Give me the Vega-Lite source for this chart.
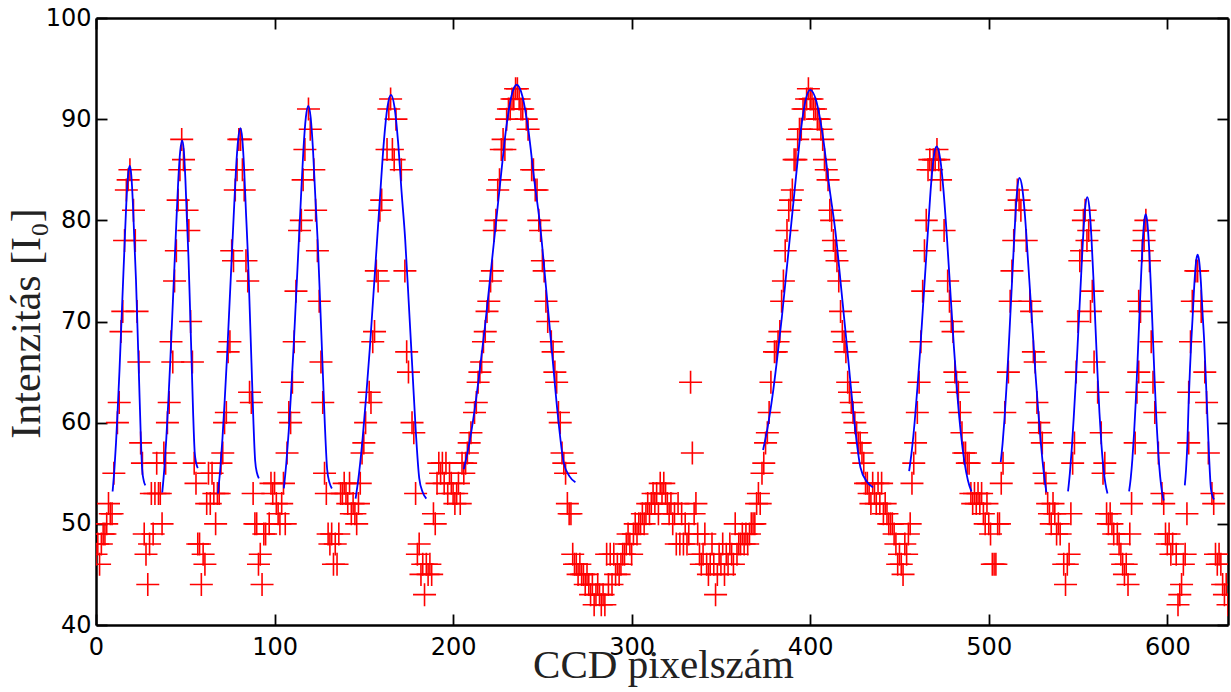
{
"$schema": "https://vega.github.io/schema/vega-lite/v6.json",
"width": 1132, "height": 607,
"autosize": {"type": "none"},
"padding": {"left": 96, "top": 18, "right": 3, "bottom": 67},
"background": "white",
"config": {"view": {"stroke": null}, "axis": {"domainColor": "black", "domainWidth": 2.5, "tickColor": "black", "tickWidth": 1.8, "grid": false, "labelFont": "DejaVu Sans", "labelFontSize": 24, "labelColor": "black", "labelFlush": false, "titleColor": "#222222", "titleFontWeight": "normal"}},
"datasets": {
"pts": [
{"x":0,"y":47},{"x":1,"y":48},{"x":2,"y":46},{"x":3,"y":48},{"x":4,"y":49},{"x":5,"y":49},{"x":6,"y":50},{"x":7,"y":52},{"x":8,"y":51},{"x":9,"y":51},
{"x":10,"y":55},{"x":12,"y":60},{"x":13,"y":62},{"x":14,"y":69},{"x":15,"y":71},{"x":16,"y":78},{"x":17,"y":83},{"x":18,"y":84},{"x":19,"y":85},{"x":21,"y":81},{"x":22,"y":78},{"x":23,"y":71},{"x":24,"y":66},{"x":25,"y":58},{"x":26,"y":56},
{"x":27,"y":49},{"x":28,"y":47},{"x":29,"y":44},{"x":30,"y":48},{"x":31,"y":53},{"x":32,"y":49},{"x":33,"y":53},{"x":34,"y":56},{"x":35,"y":53},{"x":36,"y":53},{"x":37,"y":50},{"x":38,"y":57},{"x":39,"y":56},
{"x":40,"y":60},{"x":41,"y":62},{"x":42,"y":68},{"x":43,"y":66},{"x":44,"y":74},{"x":45,"y":77},{"x":46,"y":82},{"x":47,"y":85},{"x":48,"y":88},{"x":49,"y":86},{"x":51,"y":81},{"x":52,"y":79},{"x":53,"y":70},{"x":54,"y":66},{"x":55,"y":56},{"x":56,"y":54},
{"x":57,"y":48},{"x":58,"y":48},{"x":59,"y":44},{"x":60,"y":47},{"x":61,"y":46},{"x":62,"y":52},{"x":63,"y":55},{"x":64,"y":52},{"x":65,"y":55},{"x":66,"y":53},{"x":67,"y":50},{"x":68,"y":53},{"x":69,"y":53},{"x":70,"y":56},
{"x":71,"y":57},{"x":72,"y":60},{"x":73,"y":61},{"x":74,"y":67},{"x":75,"y":68},{"x":76,"y":77},{"x":77,"y":76},{"x":78,"y":83},{"x":79,"y":85},{"x":80,"y":88},{"x":81,"y":88},{"x":82,"y":85},{"x":83,"y":83},{"x":84,"y":76},{"x":85,"y":74},{"x":86,"y":63},{"x":87,"y":62},{"x":88,"y":53},
{"x":89,"y":50},{"x":90,"y":50},{"x":91,"y":46},{"x":92,"y":47},{"x":93,"y":44},{"x":94,"y":49},{"x":95,"y":49},{"x":97,"y":50},{"x":98,"y":54},{"x":99,"y":53},{"x":100,"y":54},{"x":101,"y":52},{"x":102,"y":51},{"x":103,"y":50},{"x":104,"y":52},{"x":105,"y":54},{"x":106,"y":50},
{"x":107,"y":57},{"x":108,"y":61},{"x":109,"y":60},{"x":110,"y":64},{"x":111,"y":68},{"x":112,"y":73},{"x":114,"y":79},{"x":115,"y":80},{"x":116,"y":84},{"x":117,"y":87},{"x":119,"y":91},{"x":120,"y":89},{"x":122,"y":85},{"x":123,"y":81},{"x":124,"y":77},{"x":125,"y":72},{"x":126,"y":66},{"x":127,"y":62},{"x":128,"y":55},{"x":129,"y":53},
{"x":130,"y":49},{"x":131,"y":48},{"x":132,"y":49},{"x":133,"y":46},{"x":134,"y":48},{"x":135,"y":46},{"x":136,"y":49},{"x":137,"y":53},{"x":138,"y":53},{"x":139,"y":54},{"x":140,"y":53},{"x":141,"y":52},{"x":142,"y":54},{"x":143,"y":51},{"x":144,"y":52},{"x":145,"y":51},{"x":146,"y":50},{"x":147,"y":52},{"x":148,"y":54},
{"x":149,"y":57},{"x":150,"y":58},{"x":151,"y":60},{"x":153,"y":63},{"x":154,"y":62},{"x":155,"y":68},{"x":156,"y":69},{"x":157,"y":75},{"x":158,"y":74},{"x":159,"y":81},{"x":160,"y":82},{"x":163,"y":87},{"x":164,"y":91},{"x":165,"y":92},{"x":166,"y":87},{"x":167,"y":86},{"x":168,"y":90},{"x":171,"y":85},{"x":173,"y":75},{"x":174,"y":67},{"x":175,"y":65},{"x":177,"y":60},{"x":178,"y":59},{"x":179,"y":53},
{"x":180,"y":47},{"x":181,"y":48},{"x":182,"y":45},{"x":183,"y":46},{"x":184,"y":43},{"x":185,"y":46},{"x":186,"y":45},{"x":187,"y":46},{"x":188,"y":45},{"x":189,"y":51},{"x":190,"y":50},{"x":191,"y":54},{"x":192,"y":56},{"x":193,"y":55},{"x":194,"y":56},{"x":195,"y":54},{"x":196,"y":56},{"x":197,"y":53},{"x":198,"y":55},{"x":199,"y":54},{"x":200,"y":53},{"x":201,"y":52},{"x":202,"y":53},{"x":203,"y":54},{"x":204,"y":52},{"x":205,"y":56},
{"x":206,"y":55},{"x":207,"y":56},{"x":208,"y":57},{"x":209,"y":58},{"x":210,"y":59},{"x":212,"y":61},{"x":213,"y":62},{"x":214,"y":64},{"x":215,"y":65},{"x":216,"y":66},{"x":217,"y":68},{"x":218,"y":69},{"x":219,"y":71},{"x":220,"y":72},{"x":221,"y":74},{"x":222,"y":75},{"x":223,"y":79},{"x":224,"y":80},{"x":225,"y":83},{"x":226,"y":84},{"x":227,"y":87},{"x":228,"y":88},{"x":229,"y":87},{"x":230,"y":90},{"x":231,"y":91},{"x":232,"y":91},{"x":233,"y":92},{"x":234,"y":92},{"x":235,"y":93},{"x":236,"y":93},{"x":237,"y":92},{"x":238,"y":91},{"x":239,"y":91},{"x":241,"y":90},{"x":242,"y":89},{"x":244,"y":85},{"x":245,"y":85},{"x":246,"y":83},{"x":247,"y":83},{"x":248,"y":80},{"x":249,"y":79},{"x":250,"y":76},{"x":251,"y":75},{"x":252,"y":72},{"x":253,"y":70},{"x":255,"y":68},{"x":256,"y":67},{"x":257,"y":65},{"x":258,"y":64},{"x":259,"y":61},{"x":260,"y":60},{"x":261,"y":57},{"x":262,"y":56},
{"x":263,"y":55},{"x":264,"y":52},{"x":265,"y":51},{"x":266,"y":51},{"x":267,"y":47},{"x":268,"y":46},{"x":269,"y":46},{"x":270,"y":45},{"x":271,"y":46},{"x":272,"y":45},{"x":273,"y":45},{"x":274,"y":44},{"x":275,"y":45},{"x":276,"y":44},{"x":277,"y":43},{"x":278,"y":44},{"x":279,"y":42},{"x":280,"y":43},{"x":281,"y":44},{"x":282,"y":43},{"x":283,"y":42},{"x":284,"y":43},{"x":285,"y":42},{"x":286,"y":47},{"x":287,"y":44},{"x":288,"y":47},{"x":289,"y":44},{"x":290,"y":47},{"x":291,"y":45},{"x":292,"y":46},{"x":293,"y":45},{"x":294,"y":46},{"x":295,"y":47},{"x":296,"y":47},{"x":297,"y":48},{"x":298,"y":49},{"x":299,"y":48},{"x":300,"y":47},{"x":301,"y":49},{"x":302,"y":50},{"x":303,"y":49},{"x":304,"y":50},{"x":305,"y":50},{"x":306,"y":51},{"x":307,"y":50},{"x":308,"y":51},{"x":309,"y":52},{"x":310,"y":51},{"x":311,"y":52},{"x":312,"y":53},{"x":313,"y":52},{"x":314,"y":53},{"x":315,"y":51},{"x":316,"y":54},{"x":317,"y":53},{"x":318,"y":54},{"x":319,"y":53},{"x":320,"y":52},{"x":321,"y":51},{"x":322,"y":52},{"x":323,"y":50},{"x":324,"y":51},{"x":325,"y":48},{"x":326,"y":52},{"x":327,"y":48},{"x":328,"y":51},{"x":329,"y":48},{"x":330,"y":50},{"x":331,"y":48},{"x":332,"y":49},{"x":333,"y":64},{"x":334,"y":57},{"x":335,"y":51},{"x":336,"y":52},{"x":337,"y":49},{"x":338,"y":47},{"x":339,"y":46},{"x":340,"y":47},{"x":341,"y":49},{"x":342,"y":46},{"x":343,"y":45},{"x":344,"y":46},{"x":345,"y":48},{"x":346,"y":46},{"x":347,"y":43},{"x":348,"y":45},{"x":349,"y":47},{"x":350,"y":46},{"x":351,"y":48},{"x":352,"y":45},{"x":353,"y":47},{"x":354,"y":46},{"x":355,"y":48},{"x":356,"y":47},{"x":357,"y":46},{"x":358,"y":50},{"x":359,"y":47},{"x":360,"y":48},{"x":361,"y":48},{"x":362,"y":49},{"x":363,"y":48},{"x":364,"y":49},{"x":365,"y":48},{"x":366,"y":49},{"x":367,"y":50},{"x":368,"y":50},{"x":369,"y":50},{"x":370,"y":52},{"x":371,"y":53},{"x":372,"y":52},
{"x":373,"y":55},{"x":374,"y":56},{"x":375,"y":58},{"x":376,"y":59},{"x":377,"y":61},{"x":378,"y":64},{"x":380,"y":67},{"x":381,"y":67},{"x":382,"y":68},{"x":383,"y":69},{"x":384,"y":72},{"x":385,"y":74},{"x":386,"y":77},{"x":387,"y":79},{"x":388,"y":81},{"x":389,"y":82},{"x":390,"y":83},{"x":391,"y":86},{"x":392,"y":86},{"x":393,"y":88},{"x":394,"y":89},{"x":395,"y":89},{"x":396,"y":91},{"x":397,"y":91},{"x":398,"y":92},{"x":399,"y":93},{"x":400,"y":92},{"x":401,"y":92},{"x":402,"y":91},{"x":403,"y":91},{"x":404,"y":90},{"x":405,"y":90},{"x":406,"y":89},{"x":407,"y":88},{"x":408,"y":86},{"x":409,"y":85},{"x":410,"y":84},{"x":411,"y":81},{"x":412,"y":80},{"x":413,"y":78},{"x":414,"y":77},{"x":415,"y":76},{"x":416,"y":74},{"x":417,"y":71},{"x":418,"y":69},{"x":419,"y":68},{"x":420,"y":67},{"x":421,"y":64},{"x":422,"y":63},{"x":423,"y":62},{"x":424,"y":61},{"x":425,"y":60},{"x":426,"y":59},{"x":427,"y":58},{"x":428,"y":58},{"x":429,"y":57},{"x":430,"y":56},
{"x":431,"y":54},{"x":432,"y":54},{"x":433,"y":53},{"x":434,"y":52},{"x":435,"y":54},{"x":436,"y":53},{"x":437,"y":52},{"x":438,"y":54},{"x":439,"y":52},{"x":440,"y":54},{"x":441,"y":51},{"x":442,"y":52},{"x":443,"y":51},{"x":444,"y":50},{"x":445,"y":50},{"x":446,"y":50},{"x":447,"y":49},{"x":448,"y":48},{"x":449,"y":46},{"x":450,"y":47},{"x":451,"y":46},{"x":452,"y":45},{"x":453,"y":48},{"x":454,"y":47},{"x":455,"y":49},{"x":456,"y":50},{"x":457,"y":54},
{"x":458,"y":56},{"x":459,"y":58},{"x":460,"y":61},{"x":461,"y":64},{"x":462,"y":68},{"x":463,"y":73},{"x":464,"y":77},{"x":465,"y":80},{"x":466,"y":85},{"x":467,"y":86},{"x":468,"y":85},{"x":469,"y":86},{"x":470,"y":86},{"x":471,"y":87},{"x":472,"y":86},{"x":473,"y":84},{"x":475,"y":79},{"x":477,"y":74},{"x":478,"y":72},{"x":479,"y":70},{"x":480,"y":69},{"x":481,"y":65},{"x":482,"y":64},{"x":483,"y":63},{"x":484,"y":61},{"x":485,"y":59},{"x":486,"y":57},{"x":487,"y":57},{"x":488,"y":56},{"x":489,"y":56},{"x":490,"y":53},
{"x":491,"y":52},{"x":492,"y":53},{"x":493,"y":52},{"x":494,"y":53},{"x":495,"y":52},{"x":496,"y":53},{"x":497,"y":51},{"x":498,"y":50},{"x":499,"y":52},{"x":500,"y":50},{"x":501,"y":49},{"x":502,"y":46},{"x":503,"y":46},{"x":504,"y":46},{"x":505,"y":50},{"x":506,"y":50},
{"x":507,"y":54},{"x":508,"y":56},{"x":509,"y":61},{"x":511,"y":65},{"x":512,"y":72},{"x":513,"y":75},{"x":514,"y":78},{"x":515,"y":81},{"x":516,"y":83},{"x":517,"y":82},{"x":518,"y":81},{"x":521,"y":78},{"x":523,"y":72},{"x":524,"y":71},{"x":525,"y":67},{"x":526,"y":66},{"x":527,"y":62},{"x":528,"y":60},{"x":529,"y":59},{"x":530,"y":58},{"x":531,"y":55},{"x":532,"y":54},
{"x":533,"y":52},{"x":534,"y":51},{"x":535,"y":50},{"x":536,"y":52},{"x":537,"y":51},{"x":538,"y":49},{"x":539,"y":50},{"x":540,"y":49},{"x":542,"y":46},{"x":543,"y":44},{"x":544,"y":46},{"x":545,"y":47},{"x":546,"y":51},
{"x":547,"y":56},{"x":548,"y":58},{"x":549,"y":65},{"x":550,"y":70},{"x":551,"y":76},{"x":552,"y":77},{"x":553,"y":80},{"x":554,"y":81},{"x":555,"y":78},{"x":556,"y":79},{"x":557,"y":71},{"x":558,"y":73},{"x":559,"y":66},{"x":561,"y":63},{"x":563,"y":59},{"x":564,"y":55},{"x":565,"y":56},
{"x":566,"y":51},{"x":567,"y":50},{"x":568,"y":51},{"x":569,"y":50},{"x":570,"y":49},{"x":572,"y":49},{"x":573,"y":48},{"x":574,"y":47},{"x":575,"y":46},{"x":576,"y":45},{"x":577,"y":46},{"x":578,"y":44},{"x":579,"y":49},{"x":580,"y":52},
{"x":582,"y":58},{"x":583,"y":63},{"x":584,"y":65},{"x":584,"y":72},{"x":585,"y":71},{"x":586,"y":77},{"x":587,"y":78},{"x":587,"y":79},{"x":588,"y":80},{"x":590,"y":76},{"x":591,"y":68},{"x":592,"y":64},{"x":593,"y":61},{"x":595,"y":57},{"x":597,"y":53},{"x":598,"y":52},
{"x":599,"y":49},{"x":600,"y":48},{"x":601,"y":49},{"x":602,"y":47},{"x":603,"y":48},{"x":605,"y":47},{"x":606,"y":42},{"x":607,"y":43},{"x":608,"y":44},{"x":609,"y":46},{"x":610,"y":47},
{"x":611,"y":51},{"x":612,"y":58},{"x":612,"y":63},{"x":613,"y":68},{"x":614,"y":72},{"x":616,"y":75},{"x":617,"y":75},{"x":619,"y":72},{"x":619,"y":71},{"x":621,"y":65},{"x":622,"y":62},{"x":623,"y":57},{"x":625,"y":53},{"x":626,"y":52},{"x":627,"y":47},{"x":628,"y":46},{"x":629,"y":47},{"x":630,"y":46},{"x":631,"y":44},{"x":632,"y":43},{"x":633,"y":44},{"x":634,"y":42}
],
"fit": [
{"p":1,"x":9.3,"y":53.2},{"p":1,"x":10.26,"y":55.29},{"p":1,"x":11.22,"y":58.03},{"p":1,"x":12.18,"y":61.41},{"p":1,"x":13.14,"y":65.11},{"p":1,"x":14.1,"y":69.3},{"p":1,"x":15.06,"y":73.49},{"p":1,"x":16.02,"y":77.67},{"p":1,"x":16.98,"y":81.7},{"p":1,"x":17.94,"y":84.43},{"p":1,"x":18.9,"y":85.4},{"p":1,"x":19.77,"y":84.45},{"p":1,"x":20.64,"y":81.77},{"p":1,"x":21.51,"y":77.82},{"p":1,"x":22.38,"y":74.18},{"p":1,"x":23.25,"y":69.28},{"p":1,"x":24.12,"y":64.23},{"p":1,"x":24.99,"y":59.17},{"p":1,"x":25.86,"y":55.38},{"p":1,"x":26.73,"y":54.27},{"p":1,"x":27.6,"y":53.8},
{"p":2,"x":37.1,"y":53.1},{"p":2,"x":38.22,"y":55.36},{"p":2,"x":39.34,"y":58.32},{"p":2,"x":40.46,"y":61.97},{"p":2,"x":41.58,"y":65.98},{"p":2,"x":42.7,"y":70.5},{"p":2,"x":43.82,"y":75.02},{"p":2,"x":44.94,"y":79.55},{"p":2,"x":46.06,"y":83.9},{"p":2,"x":47.18,"y":86.86},{"p":2,"x":48.3,"y":87.9},{"p":2,"x":49.17,"y":86.93},{"p":2,"x":50.04,"y":84.17},{"p":2,"x":50.91,"y":80.12},{"p":2,"x":51.78,"y":76.4},{"p":2,"x":52.65,"y":71.38},{"p":2,"x":53.52,"y":66.19},{"p":2,"x":54.39,"y":61.01},{"p":2,"x":55.26,"y":57.12},{"p":2,"x":56.13,"y":55.99},{"p":2,"x":57.0,"y":55.5},
{"p":3,"x":68.3,"y":53},{"p":3,"x":69.56,"y":55.35},{"p":3,"x":70.82,"y":58.42},{"p":3,"x":72.08,"y":62.21},{"p":3,"x":73.34,"y":66.36},{"p":3,"x":74.6,"y":71.05},{"p":3,"x":75.86,"y":75.74},{"p":3,"x":77.12,"y":80.44},{"p":3,"x":78.38,"y":84.95},{"p":3,"x":79.64,"y":88.02},{"p":3,"x":80.9,"y":89.1},{"p":3,"x":81.93,"y":88.06},{"p":3,"x":82.96,"y":85.12},{"p":3,"x":83.99,"y":80.8},{"p":3,"x":85.02,"y":76.82},{"p":3,"x":86.05,"y":71.45},{"p":3,"x":87.08,"y":65.92},{"p":3,"x":88.11,"y":60.38},{"p":3,"x":89.14,"y":56.23},{"p":3,"x":90.17,"y":55.02},{"p":3,"x":91.2,"y":54.5},
{"p":4,"x":105.2,"y":53.5},{"p":4,"x":106.57,"y":55.96},{"p":4,"x":107.94,"y":59.17},{"p":4,"x":109.31,"y":63.14},{"p":4,"x":110.68,"y":67.49},{"p":4,"x":112.05,"y":72.4},{"p":4,"x":113.42,"y":77.31},{"p":4,"x":114.79,"y":82.23},{"p":4,"x":116.16,"y":86.95},{"p":4,"x":117.53,"y":90.17},{"p":4,"x":118.9,"y":91.3},{"p":4,"x":120.22,"y":90.17},{"p":4,"x":121.54,"y":86.95},{"p":4,"x":122.86,"y":82.23},{"p":4,"x":124.18,"y":77.88},{"p":4,"x":125.5,"y":72.02},{"p":4,"x":126.82,"y":65.97},{"p":4,"x":128.14,"y":59.93},{"p":4,"x":129.46,"y":55.39},{"p":4,"x":130.78,"y":54.07},{"p":4,"x":132.1,"y":53.5},
{"p":5,"x":145.4,"y":52.5},{"p":5,"x":147.38,"y":55.09},{"p":5,"x":149.36,"y":58.49},{"p":5,"x":151.34,"y":62.67},{"p":5,"x":153.32,"y":67.26},{"p":5,"x":155.3,"y":72.45},{"p":5,"x":157.28,"y":77.64},{"p":5,"x":159.26,"y":82.82},{"p":5,"x":161.24,"y":87.81},{"p":5,"x":163.22,"y":91.2},{"p":5,"x":165.2,"y":92.4},{"p":5,"x":167.18,"y":91.2},{"p":5,"x":169.16,"y":87.81},{"p":5,"x":171.14,"y":82.82},{"p":5,"x":173.12,"y":78.24},{"p":5,"x":175.1,"y":72.05},{"p":5,"x":177.08,"y":65.67},{"p":5,"x":179.06,"y":59.28},{"p":5,"x":181.04,"y":54.5},{"p":5,"x":183.02,"y":53.1},{"p":5,"x":185.0,"y":52.5},
{"p":6,"x":206,"y":55.4},{"p":6,"x":208.96,"y":57.87},{"p":6,"x":211.92,"y":61.1},{"p":6,"x":214.88,"y":65.09},{"p":6,"x":217.84,"y":69.46},{"p":6,"x":220.8,"y":74.4},{"p":6,"x":223.76,"y":79.34},{"p":6,"x":226.72,"y":84.28},{"p":6,"x":229.68,"y":89.03},{"p":6,"x":232.64,"y":92.26},{"p":6,"x":235.6,"y":93.4},{"p":6,"x":238.89,"y":92.22},{"p":6,"x":242.18,"y":88.88},{"p":6,"x":245.47,"y":83.97},{"p":6,"x":248.76,"y":79.45},{"p":6,"x":252.05,"y":73.36},{"p":6,"x":255.34,"y":67.07},{"p":6,"x":258.63,"y":60.78},{"p":6,"x":261.92,"y":56.07},{"p":6,"x":265.21,"y":54.69},{"p":6,"x":268.5,"y":54.1},
{"p":7,"x":373.6,"y":57.3},{"p":7,"x":376.24,"y":59.61},{"p":7,"x":378.88,"y":62.64},{"p":7,"x":381.52,"y":66.38},{"p":7,"x":384.16,"y":70.47},{"p":7,"x":386.8,"y":75.1},{"p":7,"x":389.44,"y":79.73},{"p":7,"x":392.08,"y":84.36},{"p":7,"x":394.72,"y":88.81},{"p":7,"x":397.36,"y":91.83},{"p":7,"x":400,"y":92.9},{"p":7,"x":403.52,"y":91.72},{"p":7,"x":407.04,"y":88.38},{"p":7,"x":410.56,"y":83.47},{"p":7,"x":414.08,"y":78.95},{"p":7,"x":417.6,"y":72.86},{"p":7,"x":421.12,"y":66.57},{"p":7,"x":424.64,"y":60.28},{"p":7,"x":428.16,"y":55.57},{"p":7,"x":431.68,"y":54.19},{"p":7,"x":435.2,"y":53.6},
{"p":8,"x":455.4,"y":55.2},{"p":8,"x":456.94,"y":57.29},{"p":8,"x":458.48,"y":60.02},{"p":8,"x":460.02,"y":63.39},{"p":8,"x":461.56,"y":67.08},{"p":8,"x":463.1,"y":71.25},{"p":8,"x":464.64,"y":75.42},{"p":8,"x":466.18,"y":79.6},{"p":8,"x":467.72,"y":83.61},{"p":8,"x":469.26,"y":86.34},{"p":8,"x":470.8,"y":87.3},{"p":8,"x":472.75,"y":86.14},{"p":8,"x":474.7,"y":82.87},{"p":8,"x":476.65,"y":78.13},{"p":8,"x":478.6,"y":72.67},{"p":8,"x":480.55,"y":67.32},{"p":8,"x":482.5,"y":62.58},{"p":8,"x":484.45,"y":58.83},{"p":8,"x":486.4,"y":56.1},{"p":8,"x":488.35,"y":54.29},{"p":8,"x":490.3,"y":53.2},
{"p":9,"x":506.7,"y":56.1},{"p":9,"x":507.75,"y":57.93},{"p":9,"x":508.8,"y":60.32},{"p":9,"x":509.85,"y":63.27},{"p":9,"x":510.9,"y":66.5},{"p":9,"x":511.95,"y":70.15},{"p":9,"x":513.0,"y":73.8},{"p":9,"x":514.05,"y":77.46},{"p":9,"x":515.1,"y":80.97},{"p":9,"x":516.15,"y":83.36},{"p":9,"x":517.2,"y":84.2},{"p":9,"x":518.71,"y":83.27},{"p":9,"x":520.22,"y":80.62},{"p":9,"x":521.73,"y":76.74},{"p":9,"x":523.24,"y":72.69},{"p":9,"x":524.75,"y":68.65},{"p":9,"x":526.26,"y":64.61},{"p":9,"x":527.77,"y":61.03},{"p":9,"x":529.28,"y":57.77},{"p":9,"x":530.79,"y":55.12},{"p":9,"x":532.3,"y":53.1},
{"p":10,"x":544.4,"y":53.2},{"p":10,"x":545.48,"y":55.09},{"p":10,"x":546.56,"y":57.57},{"p":10,"x":547.64,"y":60.62},{"p":10,"x":548.72,"y":63.97},{"p":10,"x":549.8,"y":67.75},{"p":10,"x":550.88,"y":71.53},{"p":10,"x":551.96,"y":75.32},{"p":10,"x":553.04,"y":78.95},{"p":10,"x":554.12,"y":81.43},{"p":10,"x":555.2,"y":82.3},{"p":10,"x":556.33,"y":81.3},{"p":10,"x":557.46,"y":78.49},{"p":10,"x":558.59,"y":74.42},{"p":10,"x":559.72,"y":69.73},{"p":10,"x":560.85,"y":65.13},{"p":10,"x":561.98,"y":61.06},{"p":10,"x":563.11,"y":57.83},{"p":10,"x":564.24,"y":55.49},{"p":10,"x":565.37,"y":53.94},{"p":10,"x":566.5,"y":53},
{"p":11,"x":578.6,"y":53.2},{"p":11,"x":579.53,"y":54.52},{"p":11,"x":580.46,"y":56.43},{"p":11,"x":581.39,"y":58.95},{"p":11,"x":582.32,"y":62.02},{"p":11,"x":583.25,"y":65.72},{"p":11,"x":584.18,"y":69.64},{"p":11,"x":585.11,"y":73.61},{"p":11,"x":586.04,"y":77.26},{"p":11,"x":586.97,"y":79.72},{"p":11,"x":587.9,"y":80.6},{"p":11,"x":588.91,"y":79.64},{"p":11,"x":589.92,"y":76.92},{"p":11,"x":590.93,"y":72.99},{"p":11,"x":591.94,"y":68.46},{"p":11,"x":592.95,"y":64.02},{"p":11,"x":593.96,"y":60.08},{"p":11,"x":594.97,"y":56.97},{"p":11,"x":595.98,"y":54.71},{"p":11,"x":596.99,"y":53.21},{"p":11,"x":598,"y":52.3},
{"p":12,"x":609.8,"y":53.8},{"p":12,"x":610.52,"y":55.4},{"p":12,"x":611.24,"y":57.9},{"p":12,"x":611.96,"y":62.01},{"p":12,"x":612.68,"y":65.2},{"p":12,"x":613.4,"y":67.94},{"p":12,"x":614.12,"y":70.22},{"p":12,"x":614.84,"y":72.72},{"p":12,"x":615.56,"y":74.78},{"p":12,"x":616.28,"y":76.14},{"p":12,"x":617,"y":76.6},{"p":12,"x":617.92,"y":75.87},{"p":12,"x":618.84,"y":73.82},{"p":12,"x":619.76,"y":70.79},{"p":12,"x":620.68,"y":68.01},{"p":12,"x":621.6,"y":64.26},{"p":12,"x":622.52,"y":60.39},{"p":12,"x":623.44,"y":56.51},{"p":12,"x":624.36,"y":53.61},{"p":12,"x":625.28,"y":52.76},{"p":12,"x":626.2,"y":52.4}
]
},
"layer": [
{"data": {"name": "pts"},
 "mark": {"type": "point", "shape": "M-1,0H1M0,-1V1", "size": 529, "stroke": "#ff0000", "strokeWidth": 1.6, "filled": false, "opacity": 1, "clip": true},
 "encoding": {
  "x": {"field": "x", "type": "quantitative", "scale": {"domain": [0, 634], "nice": false, "zero": false},
        "axis": {"orient": "bottom", "values": [0,100,200,300,400,500,600], "tickSize": -11, "labelPadding": 21, "title": "CCD pixelszám", "titleFont": "Liberation Serif", "titleFontSize": 41, "titleX": 567, "titleY": 52, "titleBaseline": "alphabetic", "titleAlign": "center"}},
  "y": {"field": "y", "type": "quantitative", "scale": {"domain": [40, 100], "nice": false, "zero": false},
        "axis": {"orient": "left", "values": [40,50,60,70,80,90,100], "tickSize": -11, "labelPadding": 16, "title": "Intenzitás [I₀]", "titleFont": "Liberation Serif", "titleFontSize": 42, "titleAngle": -90, "titleX": -57, "titleY": 305, "titleAlign": "center", "titleBaseline": "alphabetic"}}
 }},
{"data": {"name": "fit"},
 "mark": {"type": "line", "color": "#0000ff", "strokeWidth": 1.8, "interpolate": "monotone"},
 "encoding": {
  "x": {"field": "x", "type": "quantitative", "scale": {"domain": [0, 634], "nice": false, "zero": false},
        "axis": {"orient": "top", "values": [0,100,200,300,400,500,600], "tickSize": -11, "labels": false, "title": null}},
  "y": {"field": "y", "type": "quantitative", "scale": {"domain": [40, 100], "nice": false, "zero": false},
        "axis": {"orient": "right", "values": [40,50,60,70,80,90,100], "tickSize": -11, "labels": false, "title": null}},
  "detail": {"field": "p", "type": "nominal"}
 }}
],
"resolve": {"axis": {"x": "independent", "y": "independent"}}
}
